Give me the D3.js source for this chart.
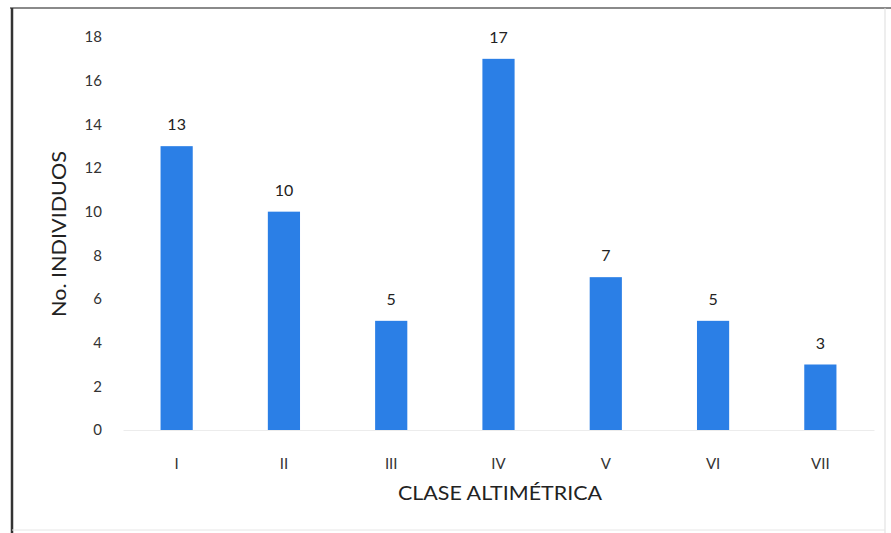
<!DOCTYPE html>
<html>
<head>
<meta charset="utf-8">
<script src="https://cdn.jsdelivr.net/npm/d3@7"></script>
<style>
  html, body { margin: 0; padding: 0; background: #fff; }
  svg { display: block; }
</style>
</head>
<body>
<svg id="chart" width="891" height="533"></svg>
<script>
// Number of individuals per altitude class
const categories = ["I", "II", "III", "IV", "V", "VI", "VII"];
const counts = [13, 10, 5, 17, 7, 5, 3];
const yTicks = [0, 2, 4, 6, 8, 10, 12, 14, 16, 18];

const svg = d3.select("#chart");
const W = 891, H = 533;
const font = "Lato, 'Open Sans', sans-serif";

// Frame of the chart area
svg.append("rect").attr("x", 0).attr("y", 0).attr("width", W).attr("height", H).attr("fill", "#fff");
svg.append("line").attr("x1", 10).attr("x2", W).attr("y1", 8).attr("y2", 8)
  .attr("stroke", "#8a8a8a").attr("stroke-width", 2);
svg.append("line").attr("x1", 12).attr("x2", 12).attr("y1", 8).attr("y2", H)
  .attr("stroke", "#333").attr("stroke-width", 2.5);
svg.append("line").attr("x1", 885).attr("x2", 885).attr("y1", 8).attr("y2", H)
  .attr("stroke", "#ddd").attr("stroke-width", 1);
svg.append("line").attr("x1", 12).attr("x2", 885).attr("y1", 530).attr("y2", 530)
  .attr("stroke", "#e6e6e6").attr("stroke-width", 1);

const x = d3.scaleBand().domain(categories).range([123, 874]).paddingInner(0.7).paddingOuter(0.35);
const y = d3.scaleLinear().domain([0, 18]).range([430, 37]);

// Y axis (labels only)
const yAxis = svg.append("g").attr("transform", "translate(102,0)")
  .call(d3.axisLeft(y).tickValues(yTicks).tickSize(0).tickPadding(0));
yAxis.select(".domain").remove();
yAxis.selectAll("text").attr("font-family", font).attr("font-size", 15).attr("fill", "#333");

// X axis (labels only)
const xAxis = svg.append("g").attr("transform", "translate(0,430)")
  .call(d3.axisBottom(x).tickSize(0).tickPadding(28));
xAxis.select(".domain").attr("stroke", "#ececec");
xAxis.selectAll("text").attr("font-family", font).attr("font-size", 15).attr("fill", "#333");

// Bars
svg.append("g").selectAll("rect").data(categories).join("rect")
  .attr("x", d => x(d))
  .attr("y", (d, i) => y(counts[i]))
  .attr("width", x.bandwidth())
  .attr("height", (d, i) => y(0) - y(counts[i]))
  .attr("fill", "#2b7fe6");

// Value labels
svg.append("g").selectAll("text").data(categories).join("text")
  .attr("x", d => x(d) + x.bandwidth() / 2)
  .attr("y", (d, i) => y(counts[i]) - 16)
  .attr("text-anchor", "middle")
  .attr("font-family", font).attr("font-size", 16).attr("fill", "#222")
  .text((d, i) => counts[i]);

// Axis titles
svg.append("text").attr("x", 500).attr("y", 500).attr("text-anchor", "middle")
  .attr("font-family", font).attr("font-size", 19).attr("fill", "#222")
  .attr("textLength", 204).attr("lengthAdjust", "spacingAndGlyphs")
  .text("CLASE ALTIMÉTRICA");
svg.append("text").attr("transform", "translate(66,234) rotate(-90)").attr("text-anchor", "middle")
  .attr("font-family", font).attr("font-size", 19).attr("fill", "#222")
  .attr("textLength", 166).attr("lengthAdjust", "spacingAndGlyphs")
  .text("No. INDIVIDUOS");
</script>
</body>
</html>
